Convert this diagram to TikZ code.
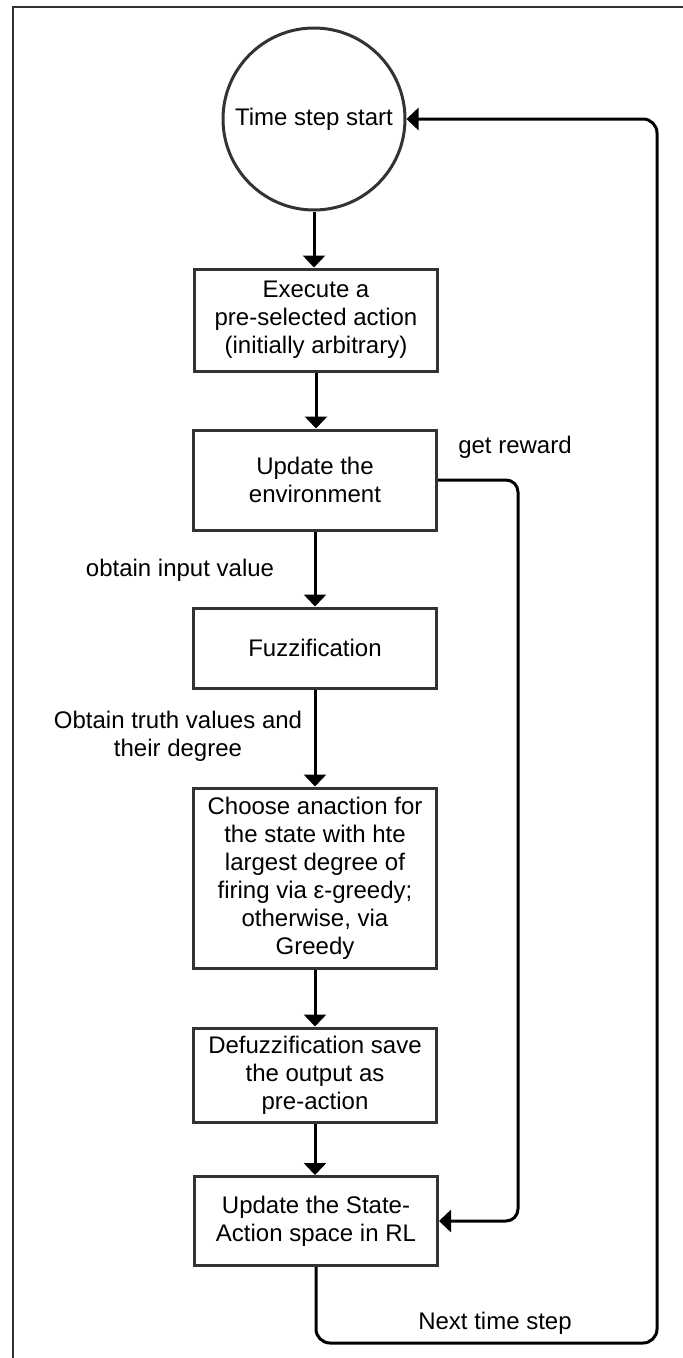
\documentclass[tikz,border=0pt]{standalone}
\usepackage{fontspec}
\setmainfont{Liberation Sans}
\usetikzlibrary{arrows.meta}
\definecolor{edge}{HTML}{333333}
\begin{document}
\begin{tikzpicture}[x=1pt,y=-1pt,
  font=\fontsize{24}{28}\selectfont,
  stepbox/.style={draw=edge, line width=3pt, fill=white, align=center,
    inner sep=0pt, minimum width=243pt},
  startcircle/.style={draw=edge, line width=3pt, circle, inner sep=0pt,
    minimum size=182pt},
  arr/.style={line width=3pt, draw=black,
    -{Triangle[width=22pt,length=12pt]}},
  lbl/.style={align=center, inner sep=0pt}]
\useasboundingbox (0,0) rectangle (683,1358);

% outer frame
\draw[line width=2pt, edge] (13,1358) -- (13,7) -- (683,7);

% flow steps
\node[startcircle] (start) at (314,119) {Time step start};
\node[stepbox, minimum height=102pt] (exec) at (316,320)
  {Execute a\\pre-selected action\\(initially arbitrary)};
\node[stepbox, minimum height=100pt] (env) at (315,480)
  {Update the\\environment};
\node[stepbox, minimum height=80pt] (fuzz) at (315,648) {Fuzzification};
\node[stepbox, minimum height=180pt] (choose) at (315,878)
  {Choose anaction for\\the state with hte\\largest degree of\\firing via ε-greedy;\\otherwise, via\\Greedy};
\node[stepbox, minimum height=94pt] (defuzz) at (315,1075)
  {Defuzzification save\\the output as\\pre-action};
\node[stepbox, minimum height=89pt] (upd) at (316,1221)
  {Update the State-\\Action space in RL};

% straight connectors
\draw[arr] (start.south) -- (start.south |- exec.north);
\draw[arr] (exec.south) -- (exec.south |- env.north);
\draw[arr] (env.south) -- (env.south |- fuzz.north);
\draw[arr] (fuzz.south) -- (fuzz.south |- choose.north);
\draw[arr] (choose.south) -- (choose.south |- defuzz.north);
\draw[arr] (defuzz.south) -- (defuzz.south |- upd.north);

% reward loop
\coordinate (rw) at (518,480);
\draw[arr, rounded corners=12pt] (env.east) -- (rw) |- (upd.east);

% next time step loop
\coordinate (nx) at (657,1343);
\draw[arr, rounded corners=14pt] (upd.south) |- (nx) |- (start.east);

% connector labels
\node[lbl] (lreward) at (515,447) {get reward};
\node[lbl] (linput) at (180,570) {obtain input value};
\node[lbl] (ltruth) at (178,736) {Obtain truth values and\\their degree};
\node[lbl] (lnext) at (495,1323) {Next time step};
\end{tikzpicture}
\end{document}
